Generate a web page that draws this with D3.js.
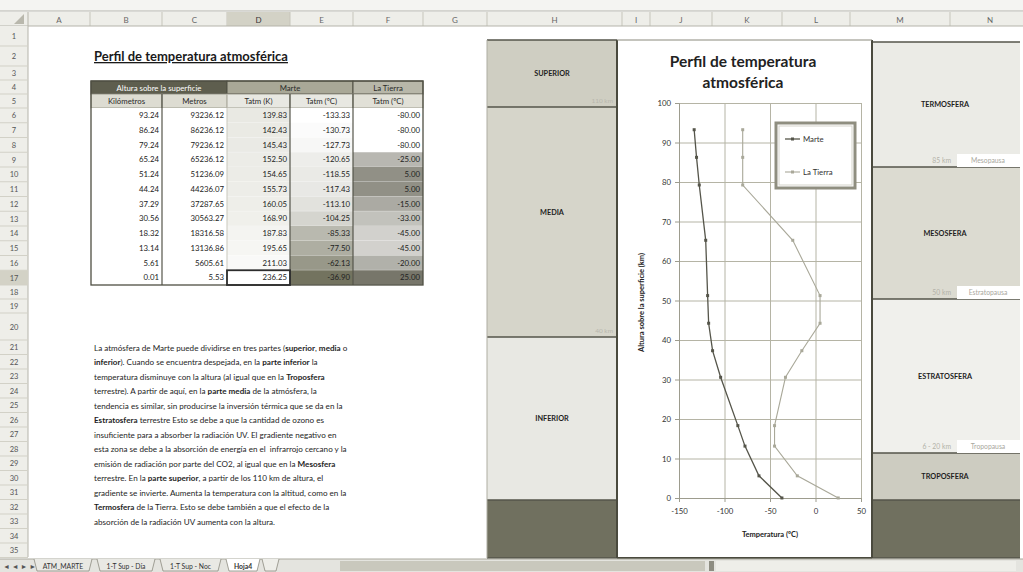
<!DOCTYPE html>
<html>
<head>
<meta charset="utf-8">
<script src="https://cdn.jsdelivr.net/npm/d3@7"></script>
<style>
  html, body { margin: 0; padding: 0; background: #ffffff; }
  svg { display: block; font-family: Lato, "Open Sans", sans-serif; }
</style>
</head>
<body>
<svg id="sheet" width="1023" height="572"></svg>
<script>
// ---- Data: Martian and terrestrial atmospheric temperature profile ----
const kilometros = [93.24, 86.24, 79.24, 65.24, 51.24, 44.24, 37.29, 30.56, 18.32, 13.14, 5.61, 0.01];
const metros     = [93236.12, 86236.12, 79236.12, 65236.12, 51236.09, 44236.07, 37287.65, 30563.27, 18316.58, 13136.86, 5605.61, 5.53];
const marteK     = [139.83, 142.43, 145.43, 152.50, 154.65, 155.73, 160.05, 168.90, 187.83, 195.65, 211.03, 236.25];
const marteC     = [-133.33, -130.73, -127.73, -120.65, -118.55, -117.43, -113.10, -104.25, -85.33, -77.50, -62.13, -36.90];
const tierraC    = [-80, -80, -80, -25, 5, 5, -15, -33, -45, -45, -20, 25];

const seriesNames = ["Marte", "La Tierra"];
const xTickValues = [-150, -100, -50, 0, 50];
const yTickValues = [0, 10, 20, 30, 40, 50, 60, 70, 80, 90, 100];

const columnLetters = ["A", "B", "C", "D", "E", "F", "G", "H", "I", "J", "K", "L", "M", "N"];
const rowNumbers = d3.range(1, 36);

const marsLayers  = ["SUPERIOR", "MEDIA", "INFERIOR"];
const marsBounds  = ["110 km", "40 km"];
const earthLayers = ["TERMOSFERA", "MESOSFERA", "ESTRATOSFERA", "TROPOSFERA"];
const earthBounds = [["85 km", "Mesopausa"], ["50 km", "Estratopausa"], ["6 - 20 km", "Tropopausa"]];

const sheetTabs = ["ATM_MARTE", "1-T Sup - Día", "1-T Sup - Noc", "Hoja4"];

const paragraph = [
  [["La atmósfera de Marte puede dividirse en tres partes (", 0], ["superior", 1], [", ", 0], ["media", 1], [" o", 0]],
  [["inferior", 1], ["). Cuando se encuentra despejada, en la ", 0], ["parte inferior", 1], [" la", 0]],
  [["temperatura disminuye con la altura (al igual que en la ", 0], ["Troposfera", 1]],
  [["terrestre). A partir de aquí, en la ", 0], ["parte media", 1], [" de la atmósfera, la", 0]],
  [["tendencia es similar, sin producirse la inversión térmica que se da en la", 0]],
  [["Estratosfera", 1], [" terrestre Esto se debe a que la cantidad de ozono es", 0]],
  [["insuficiente para a absorber la radiación UV. El gradiente negativo en", 0]],
  [["esta zona se debe a la absorción de energía en el  infrarrojo cercano y la", 0]],
  [["emisión de radiación por parte del CO2, al igual que en la ", 0], ["Mesosfera", 1]],
  [["terrestre. En la ", 0], ["parte superior", 1], [", a partir de los 110 km de altura, el", 0]],
  [["gradiente se invierte. Aumenta la temperatura con la altitud, como en la", 0]],
  [["Termosfera", 1], [" de la Tierra. Esto se debe también a que el efecto de la", 0]],
  [["absorción de la radiación UV aumenta con la altura.", 0]]
];

// ---- Sheet grid geometry ----
const colEdges = [0, 28, 90, 162, 227, 290, 353, 423, 487, 622, 650, 712, 782, 850, 950, 1030];
const rowTops = [26, 46, 66, 80, 94];
for (let i = 0; i < 13; i++) rowTops.push(108 + i * 14.75);   // rows 6..18
rowTops.push(299, 313);                                       // rows 19, 20
for (let i = 0; i < 16; i++) rowTops.push(340 + i * 14.5);    // rows 21..35 (+end)
const rowTop = r => rowTops[r - 1];
const rowBot = r => rowTops[r];

const svg = d3.select("#sheet");
const hyphen = s => s.replace(/\u2212/g, "-");

// Window strip above the headers
svg.append("rect").attr("x", 0).attr("y", 0).attr("width", 1023).attr("height", 11).attr("fill", "#f4f4f2");
svg.append("line").attr("x1", 0).attr("x2", 1023).attr("y1", 11).attr("y2", 11).attr("stroke", "#b4b4ac");

// Column headers
const colHead = svg.append("g");
colHead.append("rect").attr("x", 0).attr("y", 12).attr("width", 1023).attr("height", 14).attr("fill", "#eeeee9");
columnLetters.forEach((c, i) => {
  const x0 = colEdges[i + 1], x1 = colEdges[i + 2];
  if (c === "D") colHead.append("rect").attr("x", x0).attr("y", 12).attr("width", x1 - x0).attr("height", 14).attr("fill", "#d3d2c6");
  colHead.append("line").attr("x1", x1).attr("x2", x1).attr("y1", 12).attr("y2", 26).attr("stroke", "#c6c5bb");
  colHead.append("text").attr("x", (x0 + x1) / 2).attr("y", 22.5).attr("text-anchor", "middle")
    .attr("font-size", 8).attr("fill", c === "D" ? "#333" : "#666").text(c);
});
colHead.append("line").attr("x1", 0).attr("x2", 1023).attr("y1", 26).attr("y2", 26).attr("stroke", "#b5b4aa");
colHead.append("path").attr("d", "M24,14 L24,24 L14,24 Z").attr("fill", "#b9b8ad");

// Row headers
const rowHead = svg.append("g");
rowHead.append("rect").attr("x", 0).attr("y", 26).attr("width", 28).attr("height", 531).attr("fill", "#eeeee9");
rowHead.append("line").attr("x1", 28).attr("x2", 28).attr("y1", 12).attr("y2", 557).attr("stroke", "#b5b4aa");
rowNumbers.forEach(r => {
  const y0 = rowTop(r), y1 = rowBot(r);
  if (r === 17) rowHead.append("rect").attr("x", 0).attr("y", y0).attr("width", 28).attr("height", y1 - y0).attr("fill", "#d3d2c6");
  rowHead.append("line").attr("x1", 0).attr("x2", 28).attr("y1", y1).attr("y2", y1).attr("stroke", "#d2d1c7");
  rowHead.append("text").attr("x", 14).attr("y", y1 - (y1 - y0) / 2 + 3).attr("text-anchor", "middle")
    .attr("font-size", 7.5).attr("fill", "#555").text(r);
});

// Sheet title
svg.append("text").attr("x", 94).attr("y", 61).attr("font-size", 13).attr("font-weight", 700)
  .attr("fill", "#1a1a1a").attr("text-decoration", "underline").text("Perfil de temperatura atmosférica");

// ---- Data table ----
const table = svg.append("g").attr("font-size", 7.8);
const tx = [91, 162, 227, 290, 353, 423];
const headTop = 81, subTop = 94, bodyTop = 108, rowH = 14.75;
const bodyBot = bodyTop + rowH * kilometros.length;

// Group header row
[[tx[0], tx[2], "#5e5e4e", "#ffffff", "Altura sobre la superficie"],
 [tx[2], tx[4], "#a9a897", "#2a2a2a", "Marte"],
 [tx[4], tx[5], "#b8b7a9", "#2a2a2a", "La Tierra"]].forEach(([a, b, fill, ink, label]) => {
  table.append("rect").attr("x", a).attr("y", headTop).attr("width", b - a).attr("height", subTop - headTop)
    .attr("fill", fill).attr("stroke", "#4f4f42").attr("stroke-width", 1);
  table.append("text").attr("x", (a + b) / 2).attr("y", headTop + 9.5).attr("text-anchor", "middle")
    .attr("fill", ink).text(label);
});

// Column titles
const subTitles = ["Kilómetros", "Metros", "Tatm (K)", "Tatm (ºC)", "Tatm (ºC)"];
const subFills = ["#dddcd2", "#dddcd2", "#e8e8e2", "#e8e8e2", "#e1e0d7"];
subTitles.forEach((t, i) => {
  table.append("rect").attr("x", tx[i]).attr("y", subTop).attr("width", tx[i + 1] - tx[i]).attr("height", bodyTop - subTop)
    .attr("fill", subFills[i]).attr("stroke", "#8d8c7e").attr("stroke-width", 0.8);
  table.append("text").attr("x", (tx[i] + tx[i + 1]) / 2).attr("y", subTop + 10).attr("text-anchor", "middle")
    .attr("fill", "#2a2a2a").text(t);
});

// Colour scales for the temperature columns
const shadeK = d3.scaleLinear().domain(d3.extent(marteK)).range(["#e9e9e3", "#ffffff"]);
const shadeMarte = d3.scaleLinear().domain(d3.extent(marteC)).range(["#ffffff", "#73735f"]);
const shadeTierra = d3.scaleLinear().domain(d3.extent(tierraC)).range(["#ffffff", "#77766a"]);

const fmt2 = d3.format(".2f");
const columns = [
  { vals: kilometros, fill: () => "#ffffff" },
  { vals: metros, fill: () => "#ffffff" },
  { vals: marteK, fill: shadeK },
  { vals: marteC, fill: shadeMarte },
  { vals: tierraC, fill: shadeTierra }
];
columns.forEach((col, ci) => {
  col.vals.forEach((v, ri) => {
    const y0 = bodyTop + ri * rowH;
    table.append("rect").attr("x", tx[ci]).attr("y", y0).attr("width", tx[ci + 1] - tx[ci]).attr("height", rowH)
      .attr("fill", col.fill(v));
    if (ci >= 2) table.append("line").attr("x1", tx[ci]).attr("x2", tx[ci + 1]).attr("y1", y0 + rowH).attr("y2", y0 + rowH)
      .attr("stroke", "#ffffff").attr("stroke-opacity", 0.35);
    table.append("text").attr("x", tx[ci + 1] - 3).attr("y", y0 + 10).attr("text-anchor", "end")
      .attr("fill", "#222").text(hyphen(fmt2(v)));
  });
});
// Table rules
[tx[1], tx[3], tx[4]].forEach(x => table.append("line").attr("x1", x).attr("x2", x).attr("y1", subTop).attr("y2", bodyBot)
  .attr("stroke", "#55554a").attr("stroke-width", 1.2));
table.append("line").attr("x1", tx[2]).attr("x2", tx[2]).attr("y1", subTop).attr("y2", bodyBot)
  .attr("stroke", "#c9c8bd").attr("stroke-width", 1);
table.append("rect").attr("x", tx[0]).attr("y", headTop).attr("width", tx[5] - tx[0]).attr("height", bodyBot - headTop)
  .attr("fill", "none").attr("stroke", "#4f4f42").attr("stroke-width", 1.3);
// Active cell D17
table.append("rect").attr("x", tx[2]).attr("y", bodyBot - rowH).attr("width", tx[3] - tx[2]).attr("height", rowH)
  .attr("fill", "none").attr("stroke", "#2d2d2d").attr("stroke-width", 1.8);

// ---- Paragraph ----
const para = svg.append("g").attr("font-size", 8.1).attr("fill", "#1e1e1e");
paragraph.forEach((segs, i) => {
  const r = 21 + i;
  const t = para.append("text").attr("x", 94).attr("y", rowBot(r) - 4).attr("xml:space", "preserve");
  segs.forEach(([s, b]) => t.append("tspan").attr("font-weight", b ? 700 : 400).text(s));
});

// ---- Side panels ----
const panelTop = 40, panelBot = 558;
const marsBox = { x0: 487, x1: 617, cuts: [40, 107, 337, 500, 558], fills: ["#cfcec2", "#d6d5ca", "#e8e8e3", "#70705f"] };
const earthBox = { x0: 872, x1: 1020, cuts: [42, 167, 299, 453, 500, 558], fills: ["#ebebe6", "#dcdbd1", "#f0f0ec", "#cdccc1", "#70705f"] };

function drawPanel(box, names, bounds, isEarth) {
  const g = svg.append("g");
  box.fills.forEach((f, i) => {
    g.append("rect").attr("x", box.x0).attr("y", box.cuts[i]).attr("width", box.x1 - box.x0)
      .attr("height", box.cuts[i + 1] - box.cuts[i]).attr("fill", f);
  });
  box.cuts.forEach((c, i) => {
    if (i === 0 || i === box.cuts.length - 1) return;
    g.append("line").attr("x1", box.x0).attr("x2", box.x1).attr("y1", c).attr("y2", c)
      .attr("stroke", "#55554a").attr("stroke-width", 1.5);
  });
  names.forEach((n, i) => {
    const cy = (box.cuts[i] + box.cuts[i + 1]) / 2;
    const ty = isEarth ? cy : (i === 1 ? 212 : cy);
    g.append("text").attr("x", isEarth ? 945 : 552).attr("y", ty + 2.5).attr("text-anchor", "middle")
      .attr("font-size", 7.3).attr("font-weight", 700).attr("fill", "#1e1e1e").text(n);
  });
  bounds.forEach((b, i) => {
    const yb = box.cuts[i + 1];
    if (isEarth) {
      g.append("rect").attr("x", 957).attr("y", yb - 13).attr("width", box.x1 - 957).attr("height", 13).attr("fill", "#ffffff");
      g.append("text").attr("x", 951).attr("y", yb - 4).attr("text-anchor", "end").attr("font-size", 6.8)
        .attr("fill", "#b3b2a8").text(b[0]);
      g.append("text").attr("x", 988).attr("y", yb - 4).attr("text-anchor", "middle").attr("font-size", 6.8)
        .attr("fill", "#a9a89e").text(b[1]);
    } else {
      g.append("text").attr("x", box.x1 - 4).attr("y", yb - 4).attr("text-anchor", "end").attr("font-size", 6.5)
        .attr("fill", "#b8b7ad").text(b);
    }
  });
  g.append("line").attr("x1", box.x0).attr("x2", box.x1).attr("y1", box.cuts[0]).attr("y2", box.cuts[0])
    .attr("stroke", "#55554a").attr("stroke-width", 1.5);
  g.append("line").attr("x1", box.x0).attr("x2", box.x1).attr("y1", panelBot).attr("y2", panelBot)
    .attr("stroke", "#55554a").attr("stroke-width", 1.5);
  g.append("line").attr("x1", box.x0).attr("x2", box.x0).attr("y1", box.cuts[0]).attr("y2", panelBot)
    .attr("stroke", "#aeada2").attr("stroke-width", 1);
}
drawPanel(marsBox, marsLayers, marsBounds, false);
drawPanel(earthBox, earthLayers, earthBounds, true);

// ---- Chart ----
const chart = svg.append("g");
chart.append("rect").attr("x", 617).attr("y", panelTop).attr("width", 872 - 617).attr("height", panelBot - panelTop)
  .attr("fill", "#ffffff");

const x = d3.scaleLinear().domain([-150, 50]).range([679, 861]);
const y = d3.scaleLinear().domain([0, 100]).range([498, 103]);

chart.append("text").attr("x", 743).attr("y", 67).attr("text-anchor", "middle").attr("font-size", 15.5)
  .attr("font-weight", 700).attr("fill", "#222").text("Perfil de temperatura");
chart.append("text").attr("x", 743).attr("y", 88).attr("text-anchor", "middle").attr("font-size", 15.5)
  .attr("font-weight", 700).attr("fill", "#222").text("atmosférica");

// Gridlines
const grid = chart.append("g");
grid.append("g").attr("transform", `translate(0,${y(0)})`)
  .call(d3.axisBottom(x).tickValues(xTickValues).tickSize(-(y(0) - y(100))).tickFormat(""))
  .call(g => g.select(".domain").remove())
  .selectAll("line").attr("stroke", "#b5b4a5");
grid.append("g").attr("transform", `translate(${x(-150)},0)`)
  .call(d3.axisLeft(y).tickValues(yTickValues).tickSize(-(x(50) - x(-150))).tickFormat(""))
  .call(g => g.select(".domain").remove())
  .selectAll("line").attr("stroke", "#b5b4a5");

// Axes
const xAxis = chart.append("g").attr("transform", `translate(0,${y(0)})`)
  .call(d3.axisBottom(x).tickValues(xTickValues).tickSize(4).tickPadding(6).tickFormat(d3.format("d")));
const yAxis = chart.append("g").attr("transform", `translate(${x(-150)},0)`)
  .call(d3.axisLeft(y).tickValues(yTickValues).tickSize(4).tickPadding(4).tickFormat(d3.format("d")));
[xAxis, yAxis].forEach(a => {
  a.select(".domain").attr("stroke", "#9d9c8e");
  a.selectAll(".tick line").attr("stroke", "#9d9c8e");
  a.selectAll(".tick text").attr("font-family", "Lato, sans-serif").attr("font-size", 7.8).attr("fill", "#333");
});
xAxis.selectAll(".tick text").text(d => hyphen(String(d)));

chart.append("text").attr("x", 770).attr("y", 537).attr("text-anchor", "middle").attr("font-size", 7.5)
  .attr("font-weight", 700).attr("fill", "#222").text("Temperatura (ºC)");
chart.append("text").attr("transform", `translate(644,${(y(0) + y(100)) / 2 + 2}) rotate(-90)`)
  .attr("text-anchor", "middle").attr("font-size", 7.5).attr("font-weight", 700).attr("fill", "#222")
  .text("Altura sobre la superficie (km)");

// Series
const series = [
  { name: seriesNames[0], temps: marteC, color: "#55554a", width: 1.3 },
  { name: seriesNames[1], temps: tierraC, color: "#a9a899", width: 1.1 }
];
const line = d3.line().x(d => x(d[0])).y(d => y(d[1]));
series.forEach(s => {
  const pts = s.temps.map((t, i) => [t, kilometros[i]]);
  chart.append("path").attr("d", line(pts)).attr("fill", "none").attr("stroke", s.color).attr("stroke-width", s.width);
  chart.append("g").selectAll("rect").data(pts).join("rect")
    .attr("x", d => x(d[0]) - 1.5).attr("y", d => y(d[1]) - 1.5).attr("width", 3).attr("height", 3)
    .attr("fill", s.color);
});

// Legend
const lg = chart.append("g");
lg.append("rect").attr("x", 776).attr("y", 123).attr("width", 79).attr("height", 65)
  .attr("fill", "#ffffff").attr("stroke", "#8f8e80").attr("stroke-width", 3);
lg.append("rect").attr("x", 779).attr("y", 126).attr("width", 73).attr("height", 59)
  .attr("fill", "none").attr("stroke", "#d5d4cb").attr("stroke-width", 1);
series.forEach((s, i) => {
  const ly = 139 + i * 33;
  lg.append("line").attr("x1", 785).attr("x2", 800).attr("y1", ly).attr("y2", ly).attr("stroke", s.color).attr("stroke-width", s.width);
  lg.append("rect").attr("x", 792.5 - 1.5).attr("y", ly - 1.5).attr("width", 3).attr("height", 3).attr("fill", s.color);
  lg.append("text").attr("x", 803).attr("y", ly + 2.5).attr("font-size", 7.8).attr("fill", "#333").text(s.name);
});

// Chart frame
chart.append("line").attr("x1", 617).attr("x2", 617).attr("y1", panelTop).attr("y2", panelBot).attr("stroke", "#4a4a3e").attr("stroke-width", 2);
chart.append("line").attr("x1", 872).attr("x2", 872).attr("y1", panelTop).attr("y2", panelBot).attr("stroke", "#4a4a3e").attr("stroke-width", 2);
chart.append("line").attr("x1", 617).attr("x2", 872).attr("y1", panelTop).attr("y2", panelTop).attr("stroke", "#8a897c").attr("stroke-width", 1);
chart.append("line").attr("x1", 617).attr("x2", 872).attr("y1", panelBot).attr("y2", panelBot).attr("stroke", "#4a4a3e").attr("stroke-width", 2);

// ---- Sheet tab bar ----
const tabs = svg.append("g");
tabs.append("rect").attr("x", 0).attr("y", 559).attr("width", 1023).attr("height", 13).attr("fill", "#e4e4df");
tabs.append("line").attr("x1", 0).attr("x2", 1023).attr("y1", 559).attr("y2", 559).attr("stroke", "#a9a89d");
tabs.append("text").attr("x", 3).attr("y", 569).attr("font-size", 7).attr("fill", "#555").text("◄ ◄ ► ►");
const tabX = [34, 97, 160, 226];
const tabW = [58, 58, 61, 34];
sheetTabs.forEach((t, i) => {
  const active = i === sheetTabs.length - 1;
  tabs.append("path").attr("d", `M${tabX[i]},559 L${tabX[i] + 3},571 L${tabX[i] + tabW[i] - 3},571 L${tabX[i] + tabW[i]},559`)
    .attr("fill", active ? "#ffffff" : "#e9e9e4").attr("stroke", "#8d8c80").attr("stroke-width", 0.8);
  tabs.append("text").attr("x", tabX[i] + tabW[i] / 2).attr("y", 568.5).attr("text-anchor", "middle")
    .attr("font-size", 6.8).attr("font-weight", active ? 700 : 400).attr("fill", "#333").text(t);
});
tabs.append("path").attr("d", "M262,559 L265,571 L276,571 L279,559").attr("fill", "#eeeee9").attr("stroke", "#8d8c80").attr("stroke-width", 0.8);
tabs.append("rect").attr("x", 340).attr("y", 561).attr("width", 365).attr("height", 10).attr("fill", "#c9c8bd");
tabs.append("rect").attr("x", 709).attr("y", 561).attr("width", 5).attr("height", 10).attr("fill", "#8e8d82");
tabs.append("rect").attr("x", 716).attr("y", 561).attr("width", 300).attr("height", 10).attr("fill", "#eeeee9");
</script>
</body>
</html>
